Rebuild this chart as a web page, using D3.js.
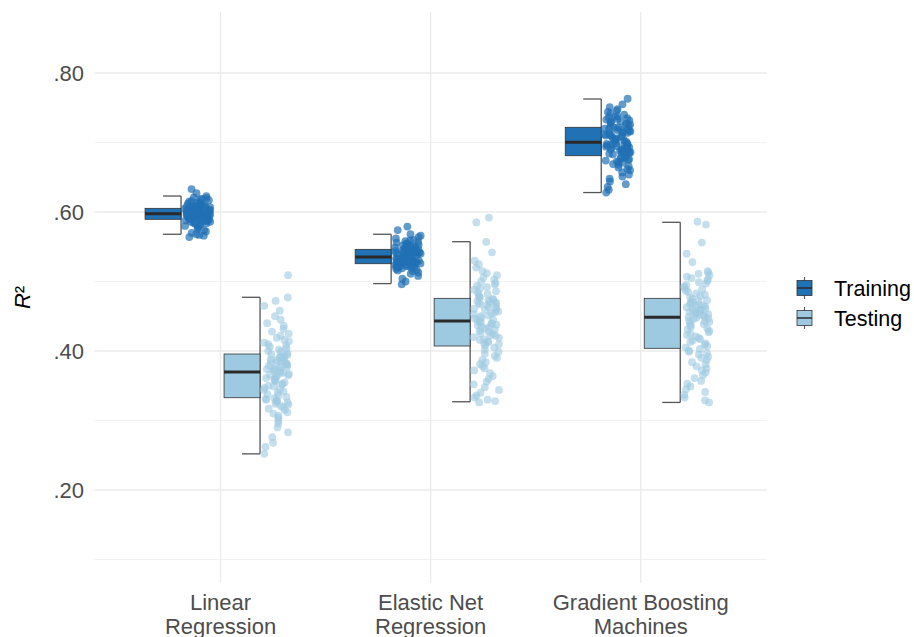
<!DOCTYPE html>
<html>
<head>
<meta charset="utf-8">
<script src="https://cdn.jsdelivr.net/npm/d3@7"></script>
<style>
  html, body { margin: 0; padding: 0; background: #ffffff; }
  svg { display: block; font-family: "Liberation Sans", Arial, sans-serif; }
</style>
</head>
<body>
<svg id="chart" width="914" height="637"></svg>
<script>
// Model names (x axis) and the two evaluation sets
const models = ["Linear Regression", "Elastic Net Regression", "Gradient Boosting Machines"];
const modelLabels = [["Linear", "Regression"], ["Elastic Net", "Regression"], ["Gradient Boosting", "Machines"]];
const sets = ["Training", "Testing"];
const yTicks = [0.2, 0.4, 0.6, 0.8];
const yMinorTicks = [0.1, 0.3, 0.5, 0.7];

// Box summaries per model: [whisker low, Q1, median, Q3, whisker high]
const trainingBoxes = [
  [0.568, 0.5895, 0.5975, 0.6053, 0.623],
  [0.497, 0.5256, 0.5353, 0.5463, 0.568],
  [0.628, 0.681, 0.7003, 0.7219, 0.7626]
];
const testingBoxes = [
  [0.252, 0.3328, 0.3698, 0.3957, 0.4773],
  [0.327, 0.4072, 0.4432, 0.4758, 0.5573],
  [0.326, 0.4039, 0.4485, 0.4758, 0.5852]
];

// R² of each resample, per model
const lrTraining = [
  0.564, 0.566, 0.567, 0.568, 0.570, 0.572, 0.574, 0.576, 0.578, 0.579, 0.580, 0.581, 0.582, 0.583, 0.584, 0.585, 0.585, 0.586, 0.586, 0.587, 0.587, 0.588, 0.588, 0.589, 0.589,
  0.590, 0.590, 0.591, 0.591, 0.591, 0.592, 0.592, 0.592, 0.593, 0.593, 0.594, 0.594, 0.594, 0.595, 0.595, 0.595, 0.596, 0.596, 0.596, 0.596, 0.597, 0.597, 0.597, 0.597, 0.597,
  0.598, 0.598, 0.598, 0.599, 0.599, 0.599, 0.600, 0.600, 0.600, 0.600, 0.601, 0.601, 0.601, 0.602, 0.602, 0.602, 0.603, 0.603, 0.603, 0.604, 0.604, 0.604, 0.605, 0.605, 0.605,
  0.606, 0.606, 0.607, 0.607, 0.608, 0.608, 0.609, 0.609, 0.610, 0.610, 0.611, 0.612, 0.612, 0.613, 0.614, 0.615, 0.616, 0.617, 0.618, 0.619, 0.620, 0.621, 0.623, 0.627, 0.633
];
const lrTesting = [
  0.252, 0.262, 0.268, 0.276, 0.283, 0.290, 0.296, 0.300, 0.304, 0.307, 0.310, 0.312, 0.315, 0.317, 0.319, 0.321, 0.323, 0.324, 0.326, 0.327, 0.328, 0.329, 0.330, 0.331, 0.332,
  0.334, 0.336, 0.338, 0.340, 0.342, 0.344, 0.345, 0.347, 0.349, 0.350, 0.352, 0.353, 0.355, 0.356, 0.358, 0.359, 0.360, 0.361, 0.363, 0.364, 0.365, 0.366, 0.367, 0.368, 0.369,
  0.371, 0.372, 0.373, 0.374, 0.375, 0.376, 0.377, 0.378, 0.379, 0.380, 0.381, 0.382, 0.383, 0.384, 0.385, 0.386, 0.387, 0.388, 0.389, 0.390, 0.391, 0.392, 0.393, 0.394, 0.395,
  0.397, 0.399, 0.400, 0.402, 0.404, 0.406, 0.408, 0.410, 0.412, 0.414, 0.416, 0.419, 0.422, 0.425, 0.428, 0.432, 0.436, 0.440, 0.445, 0.450, 0.458, 0.465, 0.472, 0.477, 0.509
];
const enTraining = [
  0.496, 0.500, 0.504, 0.508, 0.511, 0.513, 0.515, 0.516, 0.517, 0.518, 0.519, 0.520, 0.520, 0.521, 0.521, 0.522, 0.522, 0.523, 0.523, 0.524, 0.524, 0.524, 0.525, 0.525, 0.525,
  0.526, 0.526, 0.527, 0.527, 0.528, 0.528, 0.528, 0.529, 0.529, 0.530, 0.530, 0.530, 0.531, 0.531, 0.531, 0.532, 0.532, 0.532, 0.533, 0.533, 0.533, 0.534, 0.534, 0.534, 0.535,
  0.536, 0.536, 0.537, 0.537, 0.538, 0.538, 0.539, 0.539, 0.540, 0.540, 0.540, 0.541, 0.541, 0.542, 0.542, 0.543, 0.543, 0.543, 0.544, 0.544, 0.544, 0.545, 0.545, 0.546, 0.546,
  0.547, 0.547, 0.548, 0.548, 0.549, 0.549, 0.550, 0.550, 0.551, 0.552, 0.552, 0.553, 0.554, 0.555, 0.556, 0.557, 0.558, 0.559, 0.560, 0.562, 0.564, 0.566, 0.568, 0.574, 0.579
];
const enTesting = [
  0.326, 0.328, 0.330, 0.333, 0.336, 0.340, 0.344, 0.348, 0.352, 0.356, 0.360, 0.364, 0.368, 0.372, 0.375, 0.378, 0.381, 0.384, 0.387, 0.390, 0.393, 0.396, 0.399, 0.402, 0.405,
  0.408, 0.410, 0.411, 0.413, 0.414, 0.416, 0.417, 0.419, 0.420, 0.422, 0.423, 0.425, 0.426, 0.428, 0.429, 0.431, 0.432, 0.434, 0.435, 0.437, 0.438, 0.439, 0.440, 0.441, 0.442,
  0.444, 0.445, 0.447, 0.448, 0.450, 0.451, 0.453, 0.454, 0.456, 0.457, 0.459, 0.460, 0.461, 0.463, 0.464, 0.466, 0.467, 0.468, 0.469, 0.470, 0.471, 0.472, 0.473, 0.474, 0.475,
  0.477, 0.478, 0.480, 0.482, 0.484, 0.486, 0.488, 0.490, 0.492, 0.494, 0.496, 0.498, 0.500, 0.503, 0.506, 0.509, 0.512, 0.515, 0.520, 0.525, 0.530, 0.542, 0.557, 0.585, 0.592
];
const gbmTraining = [
  0.628, 0.632, 0.636, 0.640, 0.644, 0.648, 0.651, 0.654, 0.657, 0.660, 0.662, 0.664, 0.666, 0.668, 0.669, 0.671, 0.672, 0.673, 0.674, 0.675, 0.676, 0.677, 0.678, 0.679, 0.680,
  0.682, 0.683, 0.684, 0.685, 0.686, 0.686, 0.687, 0.688, 0.689, 0.690, 0.690, 0.691, 0.692, 0.693, 0.693, 0.694, 0.695, 0.695, 0.696, 0.697, 0.697, 0.698, 0.698, 0.699, 0.699,
  0.701, 0.702, 0.703, 0.704, 0.705, 0.706, 0.707, 0.708, 0.709, 0.710, 0.710, 0.711, 0.712, 0.713, 0.714, 0.714, 0.715, 0.716, 0.717, 0.718, 0.718, 0.719, 0.720, 0.720, 0.721,
  0.722, 0.723, 0.724, 0.725, 0.726, 0.727, 0.728, 0.729, 0.730, 0.731, 0.732, 0.733, 0.734, 0.735, 0.736, 0.737, 0.738, 0.740, 0.742, 0.744, 0.746, 0.748, 0.751, 0.755, 0.763
];
const gbmTesting = [
  0.326, 0.329, 0.333, 0.337, 0.341, 0.345, 0.349, 0.353, 0.357, 0.361, 0.365, 0.369, 0.372, 0.375, 0.378, 0.381, 0.384, 0.387, 0.390, 0.392, 0.395, 0.397, 0.399, 0.401, 0.403,
  0.405, 0.407, 0.409, 0.411, 0.413, 0.415, 0.417, 0.419, 0.421, 0.423, 0.425, 0.427, 0.429, 0.431, 0.433, 0.435, 0.437, 0.439, 0.440, 0.442, 0.443, 0.444, 0.446, 0.447, 0.448,
  0.449, 0.450, 0.451, 0.452, 0.453, 0.454, 0.455, 0.456, 0.457, 0.458, 0.459, 0.460, 0.461, 0.462, 0.463, 0.464, 0.465, 0.466, 0.467, 0.468, 0.469, 0.471, 0.472, 0.473, 0.475,
  0.477, 0.479, 0.481, 0.483, 0.485, 0.487, 0.489, 0.491, 0.493, 0.495, 0.497, 0.499, 0.501, 0.503, 0.505, 0.507, 0.509, 0.511, 0.513, 0.515, 0.528, 0.540, 0.556, 0.582, 0.586
];

const trainingPoints = [lrTraining, enTraining, gbmTraining];
const testingPoints = [lrTesting, enTesting, gbmTesting];

const colors = { Training: "#2171b5", Testing: "#9ecae1" };
const pointAlpha = { Training: 0.7, Testing: 0.6 };

const svg = d3.select("#chart");
const W = 914, H = 637;
svg.append("rect").attr("width", W).attr("height", H).attr("fill", "#ffffff");

const panel = { left: 94.5, right: 766.8, top: 12, bottom: 583 };

const x = d3.scalePoint().domain(models).range([panel.left, panel.right]).padding(0.6);
const dodge = d3.scalePoint().domain(sets).range([-39.5, 39.5]);
const y = d3.scaleLinear().domain([0.0662, 0.8878]).range([panel.bottom, panel.top]);

// grid
const grid = svg.append("g");
grid.selectAll("line.minor").data(yMinorTicks).join("line")
  .attr("x1", panel.left).attr("x2", panel.right)
  .attr("y1", d => y(d)).attr("y2", d => y(d))
  .attr("stroke", "#ebebeb").attr("stroke-width", 0.7);
grid.selectAll("line.major").data(yTicks).join("line")
  .attr("x1", panel.left).attr("x2", panel.right)
  .attr("y1", d => y(d)).attr("y2", d => y(d))
  .attr("stroke", "#ebebeb").attr("stroke-width", 1.3);
grid.selectAll("line.vx").data(models).join("line")
  .attr("x1", d => x(d)).attr("x2", d => x(d))
  .attr("y1", panel.top).attr("y2", panel.bottom)
  .attr("stroke", "#ebebeb").attr("stroke-width", 1.3);

// y axis labels
const fmt = v => d3.format(".2f")(v).replace(/^0/, "");
const yAxis = d3.axisLeft(y).tickValues(yTicks).tickFormat(fmt).tickSize(0).tickPadding(0);
const yAxisG = svg.append("g").attr("transform", `translate(${84},0)`).call(yAxis);
yAxisG.select(".domain").remove();
yAxisG.selectAll("text")
  .attr("fill", "#4d4d4d").attr("font-size", 22).attr("font-family", "Liberation Sans, Arial, sans-serif")
  .attr("dy", "0.36em");

// x axis labels (two lines)
const xLab = svg.append("g");
models.forEach((m, i) => {
  const t = xLab.append("text")
    .attr("x", x(m)).attr("y", 610)
    .attr("text-anchor", "middle")
    .attr("font-size", 22).attr("fill", "#4d4d4d");
  modelLabels[i].forEach((line, j) => {
    t.append("tspan").attr("x", x(m)).attr("dy", j === 0 ? 0 : 24).text(line);
  });
});

// y axis title
const yTitle = svg.append("text")
  .attr("transform", `translate(30,${(panel.top + panel.bottom) / 2}) rotate(-90)`)
  .attr("text-anchor", "middle").attr("font-size", 22).attr("fill", "#000");
yTitle.append("tspan").attr("font-style", "italic").text("R");
yTitle.append("tspan").text("²");

// boxes + jittered points
const boxW = 36, tickW = 18;
const jitterCenter = 16.5, jitterHalf = 13;
const groups = [];
models.forEach((m, i) => {
  groups.push({ model: m, set: "Training", stats: trainingBoxes[i], pts: trainingPoints[i], seed: i * 2 + 1 });
  groups.push({ model: m, set: "Testing", stats: testingBoxes[i], pts: testingPoints[i], seed: i * 2 + 2 });
});

const gBoxes = svg.append("g");
groups.forEach(g => {
  const c = x(g.model) + dodge(g.set);
  const [lo, q1, med, q3, hi] = g.stats;
  const el = gBoxes.append("g");
  // whisker along the right edge of the box, with short caps
  el.append("line").attr("x1", c).attr("x2", c).attr("y1", y(hi)).attr("y2", y(lo))
    .attr("stroke", "#555").attr("stroke-width", 1.3);
  el.append("line").attr("x1", c - tickW).attr("x2", c).attr("y1", y(hi)).attr("y2", y(hi))
    .attr("stroke", "#555").attr("stroke-width", 1.3);
  el.append("line").attr("x1", c - tickW).attr("x2", c).attr("y1", y(lo)).attr("y2", y(lo))
    .attr("stroke", "#555").attr("stroke-width", 1.3);
  el.append("rect").attr("x", c - boxW).attr("width", boxW)
    .attr("y", y(q3)).attr("height", y(q1) - y(q3))
    .attr("fill", colors[g.set]).attr("stroke", "#333").attr("stroke-width", 0.8);
  el.append("line").attr("x1", c - boxW).attr("x2", c).attr("y1", y(med)).attr("y2", y(med))
    .attr("stroke", "#2a2a2a").attr("stroke-width", 3);
});

// deterministic hash in [0,1) used for the horizontal jitter of each point
const hash01 = (k, s) => {
  const v = Math.sin(k * 12.9898 + s * 78.233) * 43758.5453;
  return v - Math.floor(v);
};

const gPts = svg.append("g");
groups.forEach(g => {
  const c = x(g.model) + dodge(g.set);
  gPts.selectAll(null).data(g.pts).join("circle")
    .attr("cx", (d, k) => c + jitterCenter + (hash01(k, g.seed) * 2 - 1) * jitterHalf)
    .attr("cy", d => y(d))
    .attr("r", 3.9)
    .attr("fill", colors[g.set]).attr("fill-opacity", pointAlpha[g.set]);
});

// legend
const legend = svg.append("g");
sets.forEach((s, i) => {
  const cy = 288 + i * 30, cx = 804.5;
  legend.append("line").attr("x1", cx).attr("x2", cx).attr("y1", cy - 11).attr("y2", cy + 11)
    .attr("stroke", "#555").attr("stroke-width", 1.1);
  legend.append("rect").attr("x", cx - 7.5).attr("y", cy - 7.5).attr("width", 15).attr("height", 15)
    .attr("fill", colors[s]).attr("stroke", "#333").attr("stroke-width", 0.8);
  legend.append("line").attr("x1", cx - 7.5).attr("x2", cx + 7.5).attr("y1", cy).attr("y2", cy)
    .attr("stroke", "#2a2a2a").attr("stroke-width", 1.5);
  legend.append("text").attr("x", 834).attr("y", cy).attr("dy", "0.36em")
    .attr("font-size", 21.5).attr("fill", "#000").text(s);
});
</script>
</body>
</html>
